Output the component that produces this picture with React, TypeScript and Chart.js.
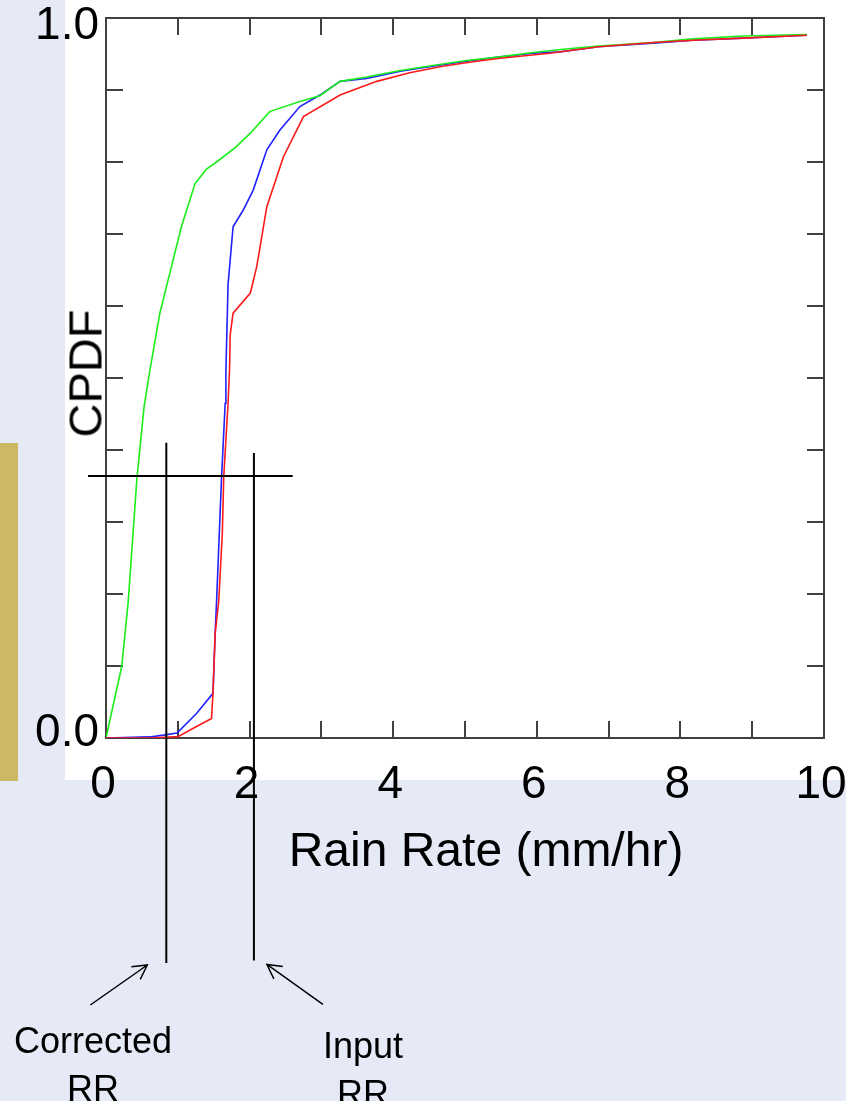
import React, { useEffect, useRef } from 'react';
import { Chart, registerables } from 'chart.js';

Chart.register(...registerables);

// Cumulative probability curves of rain rate (mm/hr)
const greenRate = [0, 0.22, 0.31, 0.43, 0.53, 0.61, 0.75, 0.85, 1.05, 1.24, 1.4, 1.54, 1.8, 2.01, 2.28, 2.7, 2.98, 3.26, 3.63, 4.1, 4.55, 5.02, 5.49, 5.95, 6.4, 6.86, 7.62, 8.18, 8.87, 9.76];
const greenCpdf = [0, 0.1, 0.19, 0.36, 0.46, 0.51, 0.59, 0.63, 0.71, 0.77, 0.79, 0.8, 0.82, 0.84, 0.87, 0.884, 0.892, 0.912, 0.918, 0.927, 0.934, 0.941, 0.946, 0.952, 0.957, 0.961, 0.966, 0.971, 0.975, 0.977];

const redRate = [0, 0.61, 1.01, 1.26, 1.47, 1.49, 1.52, 1.57, 1.62, 1.64, 1.7, 1.72, 1.73, 1.77, 2.01, 2.1, 2.24, 2.47, 2.75, 3.26, 3.77, 4.23, 4.69, 5.16, 5.49, 6.18, 6.86, 7.62, 8.18, 8.87, 9.76];
const redCpdf = [0, 0, 0.002, 0.016, 0.027, 0.062, 0.145, 0.19, 0.284, 0.363, 0.465, 0.51, 0.56, 0.59, 0.618, 0.655, 0.738, 0.807, 0.863, 0.893, 0.912, 0.924, 0.933, 0.94, 0.944, 0.951, 0.96, 0.966, 0.969, 0.972, 0.976];

const blueRate = [0, 0.61, 0.8, 0.99, 1.26, 1.49, 1.52, 1.54, 1.61, 1.66, 1.67, 1.7, 1.77, 1.91, 2.05, 2.24, 2.42, 2.7, 2.98, 3.26, 3.63, 4.1, 4.55, 5.02, 5.49, 5.95, 6.32, 6.86, 7.62, 8.18, 8.87, 9.76];
const blueCpdf = [0, 0.0015, 0.004, 0.007, 0.034, 0.062, 0.145, 0.19, 0.363, 0.465, 0.51, 0.63, 0.71, 0.733, 0.761, 0.817, 0.844, 0.877, 0.893, 0.912, 0.916, 0.926, 0.933, 0.94, 0.946, 0.951, 0.953, 0.96, 0.965, 0.969, 0.972, 0.976];

// Axis labelling
const xLabelValues = [0, 2, 4, 6, 8, 10];
const yLabelValues = [0, 1];

// Guide lines: probability level and the two rain rates
const cpdfLevel = 0.364;
const correctedRR = 0.84;
const inputRR = 2.06;

const FONT = '"Liberation Sans", Arial, Helvetica, sans-serif';

const toPoints = (xs: number[], ys: number[]) => xs.map((x, i) => ({ x, y: ys[i] }));

const framePlugin = {
  id: 'frameTicks',
  beforeDraw(chart: any) {
    // nudge the end labels of the probability axis so they sit inside the page
    const ys = chart.scales.y;
    if (ys && typeof ys.getLabelItems === 'function') {
      const items = ys.getLabelItems(chart.chartArea);
      items.forEach((it: any) => {
        const t = it.options && it.options.translation;
        if (!t) return;
        if (it.label === '1.0') t[1] += 8;
        if (it.label === '0.0') t[1] -= 5;
      });
    }
  },
  beforeDatasetsDraw(chart: any) {
    const { ctx, chartArea: a, scales } = chart;
    const xs = scales.x;
    const ys = scales.y;
    const len = 17;
    ctx.save();
    ctx.strokeStyle = '#404040';
    ctx.lineWidth = 2;
    ctx.strokeRect(a.left, a.top, a.right - a.left, a.bottom - a.top);
    ctx.beginPath();
    xs.ticks.forEach((t: any) => {
      const px = Math.round(xs.getPixelForValue(t.value));
      ctx.moveTo(px, a.bottom);
      ctx.lineTo(px, a.bottom - len);
      ctx.moveTo(px, a.top);
      ctx.lineTo(px, a.top + len);
    });
    ys.ticks.forEach((t: any) => {
      const py = Math.round(ys.getPixelForValue(t.value));
      ctx.moveTo(a.left, py);
      ctx.lineTo(a.left + len, py);
      ctx.moveTo(a.right, py);
      ctx.lineTo(a.right - len, py);
    });
    ctx.stroke();
    ctx.restore();
  },
};

function arrow(ctx: CanvasRenderingContext2D, tx: number, ty: number, hx: number, hy: number) {
  const ang = Math.atan2(hy - ty, hx - tx);
  const w = 16;
  const spread = 0.5;
  ctx.beginPath();
  ctx.moveTo(tx, ty);
  ctx.lineTo(hx, hy);
  ctx.moveTo(hx - w * Math.cos(ang - spread), hy - w * Math.sin(ang - spread));
  ctx.lineTo(hx, hy);
  ctx.lineTo(hx - w * Math.cos(ang + spread), hy - w * Math.sin(ang + spread));
  ctx.stroke();
}

const guidePlugin = {
  id: 'guides',
  afterDatasetsDraw(chart: any) {
    const { ctx, scales } = chart;
    const xs = scales.x;
    const ys = scales.y;
    ctx.save();
    ctx.strokeStyle = '#000';
    ctx.lineWidth = 2;
    const hy = ys.getPixelForValue(cpdfLevel);
    ctx.beginPath();
    ctx.moveTo(xs.getPixelForValue(-0.25), hy);
    ctx.lineTo(xs.getPixelForValue(2.6), hy);
    const cx = xs.getPixelForValue(correctedRR);
    const cBottom = ys.getPixelForValue(-0.3125);
    ctx.moveTo(cx, ys.getPixelForValue(0.41));
    ctx.lineTo(cx, cBottom);
    const ix = xs.getPixelForValue(inputRR);
    const iBottom = ys.getPixelForValue(-0.309);
    ctx.moveTo(ix, ys.getPixelForValue(0.396));
    ctx.lineTo(ix, iBottom);
    ctx.stroke();

    ctx.lineWidth = 1.5;
    arrow(ctx, cx - 76, cBottom + 42, cx - 19, cBottom + 2);
    arrow(ctx, ix + 69, iBottom + 44, ix + 13, iBottom + 4);
    ctx.restore();
  },
};

function CpdfChart() {
  const ref = useRef<HTMLCanvasElement | null>(null);

  useEffect(() => {
    if (!ref.current) return;
    const line = (label: string, xs: number[], ys: number[], color: string) => ({
      label,
      data: toPoints(xs, ys),
      showLine: true,
      borderColor: color,
      backgroundColor: color,
      borderWidth: 1.6,
      pointRadius: 0,
      tension: 0,
      fill: false,
    });
    const chart = new Chart(ref.current, {
      type: 'scatter',
      data: {
        datasets: [
          line('Red', redRate, redCpdf, '#ff1a1a'),
          line('Green', greenRate, greenCpdf, '#1aee1a'),
          line('Blue', blueRate, blueCpdf, '#2020ff'),
        ],
      },
      options: {
        responsive: false,
        animation: false,
        devicePixelRatio: 1,
        layout: { padding: { left: 0, top: 18, right: 22, bottom: 0 } },
        plugins: { legend: { display: false }, tooltip: { enabled: false } },
        scales: {
          x: {
            type: 'linear',
            min: 0,
            max: 10,
            grid: { display: false, drawTicks: false },
            border: { display: false },
            ticks: {
              stepSize: 1,
              autoSkip: false,
              maxRotation: 0,
              padding: 20,
              labelOffset: -3,
              color: '#000',
              font: { size: 46, family: FONT },
              callback: (v: any) => (xLabelValues.includes(Number(v)) ? String(v) : ''),
            },
            afterFit: (s: any) => {
              s.height = 363;
              s.paddingLeft = 0;
              s.paddingRight = 0;
            },
          },
          y: {
            type: 'linear',
            min: 0,
            max: 1,
            grid: { display: false, drawTicks: false },
            border: { display: false },
            ticks: {
              stepSize: 0.1,
              autoSkip: false,
              padding: 7,
              color: '#000',
              font: { size: 46, family: FONT },
              callback: (v: any) =>
                yLabelValues.some((l) => Math.abs(Number(v) - l) < 1e-9) ? Number(v).toFixed(1) : '',
            },
            afterFit: (s: any) => {
              s.width = 106;
              s.paddingTop = 0;
              s.paddingBottom = 0;
            },
          },
        },
      },
      plugins: [framePlugin, guidePlugin],
    } as any);
    return () => chart.destroy();
  }, []);

  return <canvas ref={ref} width={846} height={1101} style={{ position: 'absolute', left: 0, top: 0, display: 'block' }} />;
}

export default function App() {
  const text: React.CSSProperties = { position: 'absolute', fontFamily: FONT, color: '#000', textAlign: 'center', whiteSpace: 'nowrap' };
  return (
    <div style={{ position: 'absolute', left: 0, top: 0, width: 846, height: 1101, background: '#e6eaf6', overflow: 'hidden' }}>
      <div style={{ position: 'absolute', left: 65, top: 0, width: 781, height: 780, background: '#ffffff' }} />
      <div style={{ position: 'absolute', left: 0, top: 443, width: 18, height: 338, background: '#cdb866' }} />
      <CpdfChart />
      <div style={{ ...text, left: 186, top: 826, width: 600, fontSize: 48, lineHeight: '48px' }}>Rain Rate (mm/hr)</div>
      <div style={{ ...text, left: -65, top: 350, width: 300, height: 47, fontSize: 47, lineHeight: '47px', transform: 'rotate(-90deg)' }}>CPDF</div>
      <div style={{ ...text, left: -7, top: 1017, width: 200, fontSize: 36, lineHeight: '48px' }}>Corrected<br />RR</div>
      <div style={{ ...text, left: 263, top: 1022, width: 200, fontSize: 36, lineHeight: '48px' }}>Input<br />RR</div>
    </div>
  );
}
